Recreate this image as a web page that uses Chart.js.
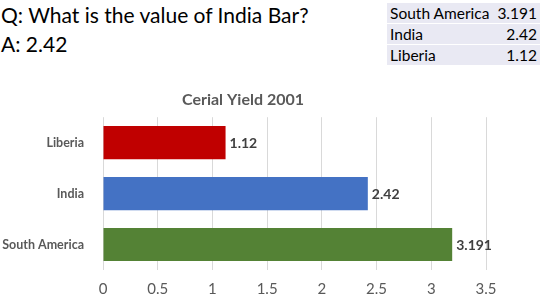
<!DOCTYPE html>
<html>
<head>
<meta charset="utf-8">
<script src="https://cdn.jsdelivr.net/npm/chart.js@4"></script>
<style>
  body { margin: 0; width: 540px; height: 294px; background: #fff; font-family: Lato, sans-serif; position: relative; overflow: hidden; }
  #qa { position: absolute; left: 1px; top: 0; font-size: 21px; line-height: 29px; color: #000; }
  #tbl { position: absolute; right: 0; top: 2px; border-collapse: separate; border-spacing: 0 1px; font-size: 15.5px; color: #000; }
  #tbl td { background: #e9e9f3; padding: 0 3px; height: 20px; }
  #tbl td.v { text-align: right; padding-left: 5px; }
  #chart { position: absolute; left: 0; top: 88px; }
</style>
</head>
<body>
<div id="qa">Q: What is the value of India Bar?<br>A: 2.42</div>
<table id="tbl"></table>
<canvas id="chart" width="540" height="220"></canvas>
<script>
// donnees du graphe
const categories = ['South America', 'India', 'Liberia'];
const values = [3.191, 2.42, 1.12];
const valueLabels = ['3.191', '2.42', '1.12'];
const barColors = ['#548235', '#4472c4', '#c00000'];
const chartTitle = 'Cerial Yield 2001';

// tableau en haut a droite
const tbl = document.getElementById('tbl');
categories.forEach((c, i) => {
    const tr = document.createElement('tr');
    tr.innerHTML = '<td>' + c + '</td><td class="v">' + valueLabels[i] + '</td>';
    tbl.appendChild(tr);
});

// etiquettes de valeur au bout des barres
const barLabels = {
    id: 'barLabels',
    afterDatasetsDraw(chart) {
        const ctx = chart.ctx;
        const meta = chart.getDatasetMeta(0);
        ctx.save();
        ctx.font = 'bold 14px Lato, sans-serif';
        ctx.fillStyle = '#404040';
        ctx.textAlign = 'left';
        ctx.textBaseline = 'middle';
        meta.data.forEach((bar, i) => {
            ctx.fillText(valueLabels[i], bar.x + 4, bar.y + 1);
        });
        ctx.restore();
    }
};

new Chart(document.getElementById('chart'), {
    type: 'bar',
    data: {
        labels: categories,
        datasets: [{
            data: values,
            backgroundColor: barColors,
            borderWidth: 0,
            barPercentage: 0.65,
            categoryPercentage: 1
        }]
    },
    plugins: [barLabels],
    options: {
        indexAxis: 'y',
        responsive: false,
        animation: false,
        layout: { padding: { left: 0, right: 54, top: 0, bottom: 0 } },
        plugins: {
            legend: { display: false },
            tooltip: { enabled: false },
            title: {
                display: true,
                text: chartTitle,
                color: '#595959',
                font: { family: 'Lato, sans-serif', size: 16, weight: 'bold' },
                padding: { top: 2, bottom: 8 }
            }
        },
        scales: {
            x: {
                min: 0,
                max: 3.5,
                ticks: {
                    stepSize: 0.5,
                    color: '#595959',
                    font: { family: 'Lato, sans-serif', size: 15 },
                    padding: 10,
                    callback: v => String(v)
                },
                grid: { color: '#d9d9d9', drawTicks: false },
                border: { display: false }
            },
            y: {
                reverse: true,
                afterFit(scale) { scale.width = 103; },
                ticks: { color: '#595959', font: { family: 'Lato, sans-serif', size: 12.5, weight: 'bold' }, padding: 11 },
                grid: { display: false },
                border: { display: false }
            }
        }
    }
});
</script>
</body>
</html>
